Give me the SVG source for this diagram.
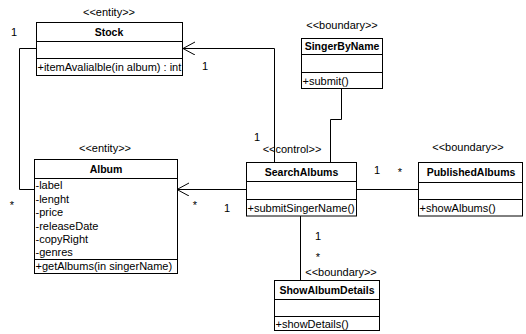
<svg xmlns="http://www.w3.org/2000/svg" width="526" height="334" viewBox="0 0 526 334">
<style>
text{font-family:"Liberation Sans",Arial,sans-serif;font-size:11px;fill:#000}
.b{font-weight:bold;font-size:10.5px;text-anchor:middle}
.m{text-anchor:middle}
rect{fill:#fff;stroke:#000;stroke-width:1}
line,path.c{stroke:#000;stroke-width:1;fill:none}
</style>
<defs>
<marker id="open" markerWidth="14" markerHeight="14" refX="12" refY="6.5" orient="auto" markerUnits="userSpaceOnUse">
<path d="M0,0 L12,6.5 L0,13" fill="none" stroke="#000" stroke-width="1"/>
</marker>
</defs>
<g id="connectors">
<path class="c" d="M36,48.5 H19.5 V189.5 H34"/>
<path class="c" d="M274.5,163 V48.5 H183" marker-end="url(#open)"/>
<path class="c" d="M341.5,88 V119.5 H330.5 V163"/>
<path class="c" d="M246,189.5 H177" marker-end="url(#open)"/>
<path class="c" d="M357,189.5 H418"/>
<path class="c" d="M300.5,216 V280"/>
<text x="14" y="36" class="m">1</text>
<text x="12" y="209" class="m">*</text>
<text x="205" y="70" class="m">1</text>
<text x="257" y="141" class="m">1</text>
<text x="195" y="209" class="m">*</text>
<text x="227" y="212" class="m">1</text>
<text x="377" y="174" class="m">1</text>
<text x="400" y="176" class="m">*</text>
<text x="318" y="240" class="m">1</text>
<text x="318" y="261" class="m">*</text>
</g>
<g id="Stock">
<text x="109" y="16" class="m">&lt;&lt;entity&gt;&gt;</text>
<rect x="36.5" y="22.5" width="146" height="53"/>
<line x1="36.5" y1="41.5" x2="182.5" y2="41.5"/>
<line x1="36.5" y1="58.5" x2="182.5" y2="58.5"/>
<text x="109" y="35.5" class="b">Stock</text>
<text x="37.5" y="71">+itemAvalialble(in album) : int</text>
</g>
<g id="SingerByName">
<text x="342" y="29" class="m">&lt;&lt;boundary&gt;&gt;</text>
<rect x="301.5" y="38.5" width="81" height="50"/>
<line x1="301.5" y1="54.5" x2="382.5" y2="54.5"/>
<line x1="301.5" y1="72.5" x2="382.5" y2="72.5"/>
<text x="342" y="50" class="b">SingerByName</text>
<text x="302.5" y="85">+submit()</text>
</g>
<g id="Album">
<text x="105" y="152" class="m">&lt;&lt;entity&gt;&gt;</text>
<rect x="34.5" y="159.5" width="143" height="114"/>
<line x1="34.5" y1="178.5" x2="177.5" y2="178.5"/>
<line x1="34.5" y1="259.5" x2="177.5" y2="259.5"/>
<text x="106" y="172.5" class="b">Album</text>
<text x="35.5" y="189">-label</text>
<text x="35.5" y="202.5">-lenght</text>
<text x="35.5" y="216">-price</text>
<text x="35.5" y="229.5">-releaseDate</text>
<text x="35.5" y="243">-copyRight</text>
<text x="35.5" y="256">-genres</text>
<text x="35.5" y="270">+getAlbums(in singerName)</text>
</g>
<g id="SearchAlbums">
<text x="292" y="153" class="m">&lt;&lt;control&gt;&gt;</text>
<rect x="246.5" y="162.5" width="110" height="53.5"/>
<line x1="246.5" y1="181.5" x2="356.5" y2="181.5"/>
<line x1="246.5" y1="199.5" x2="356.5" y2="199.5"/>
<text x="301.5" y="176" class="b">SearchAlbums</text>
<text x="247.5" y="212">+submitSingerName()</text>
</g>
<g id="PublishedAlbums">
<text x="468" y="151" class="m">&lt;&lt;boundary&gt;&gt;</text>
<rect x="418.5" y="162.5" width="104" height="53.5"/>
<line x1="418.5" y1="182.5" x2="522.5" y2="182.5"/>
<line x1="418.5" y1="199.5" x2="522.5" y2="199.5"/>
<text x="471" y="176" class="b">PublishedAlbums</text>
<text x="419.5" y="212">+showAlbums()</text>
</g>
<g id="ShowAlbumDetails">
<text x="341" y="276" class="m">&lt;&lt;boundary&gt;&gt;</text>
<rect x="274.5" y="280.5" width="105" height="50"/>
<line x1="274.5" y1="299.5" x2="379.5" y2="299.5"/>
<line x1="274.5" y1="316.5" x2="379.5" y2="316.5"/>
<text x="327" y="293.5" class="b">ShowAlbumDetails</text>
<text x="275.5" y="327.5">+showDetails()</text>
</g>
</svg>
